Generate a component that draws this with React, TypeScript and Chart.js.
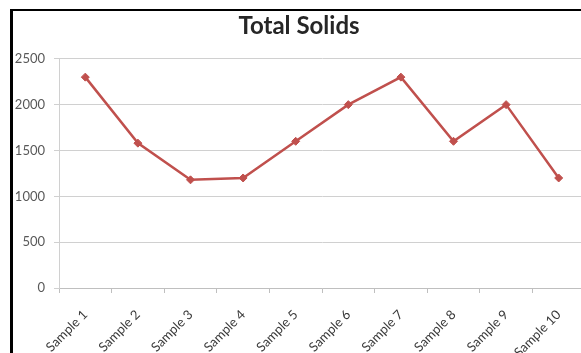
import { useEffect, useRef } from "react";
import { Chart, registerables } from "chart.js";

Chart.register(...registerables);

// Sample names along the category axis
const categories = [
  "Sample 1",
  "Sample 2",
  "Sample 3",
  "Sample 4",
  "Sample 5",
  "Sample 6",
  "Sample 7",
  "Sample 8",
  "Sample 9",
  "Sample 10",
];

// Total solids measured per sample
const totalSolids = [2300, 1580, 1180, 1200, 1600, 2000, 2300, 1600, 2000, 1200];

// Value axis range
const yMin = 0;
const yMax = 2500;
const yStep = 500;

const FONT = "Lato, 'Open Sans', sans-serif";

export default function App() {
  const canvasRef = useRef<HTMLCanvasElement>(null);

  useEffect(() => {
    const canvas = canvasRef.current;
    if (!canvas) return;
    const chart = new Chart(canvas, {
      type: "line",
      data: {
        labels: categories,
        datasets: [
          {
            label: "Total Solids",
            data: totalSolids,
            borderColor: "#C0504D",
            backgroundColor: "#C0504D",
            borderWidth: 2.5,
            pointStyle: "rectRot",
            pointRadius: 4,
            pointBorderWidth: 1,
            tension: 0,
          },
        ],
      },
      options: {
        responsive: false,
        animation: false,
        devicePixelRatio: 1,
        layout: { padding: { left: 0, right: 5, top: 0, bottom: 0 } },
        plugins: {
          legend: { display: false },
          tooltip: { enabled: false },
          title: {
            display: true,
            text: "Total Solids",
            color: "#262626",
            font: { family: FONT, size: 24, weight: "bold" },
            padding: { top: 1, bottom: 18 },
          },
        },
        scales: {
          x: {
            offset: true,
            grid: {
              offset: true,
              drawOnChartArea: false,
              drawTicks: true,
              tickLength: 5,
              color: "#bfbfbf",
            },
            border: { color: "#bfbfbf" },
            ticks: {
              minRotation: 45,
              maxRotation: 45,
              color: "#3a3a3a",
              font: { family: FONT, size: 13 },
              padding: 14,
            },
            afterFit: (scale: any) => {
              scale.height = 65;
            },
          },
          y: {
            min: yMin,
            max: yMax,
            ticks: {
              stepSize: yStep,
              color: "#595959",
              font: { family: FONT, size: 13 },
              padding: 9,
              callback: (v: any) => String(v),
            },
            grid: { color: "#d0d0d0", tickLength: 5, drawTicks: true },
            border: { color: "#d0d0d0" },
            afterFit: (scale: any) => {
              scale.width = 46;
            },
          },
        },
      },
    });
    return () => chart.destroy();
  }, []);

  return (
    <div
      style={{
        position: "absolute",
        left: 0,
        top: 0,
        width: 581,
        height: 353,
        overflow: "hidden",
        background: "#fff",
      }}
    >
      <div
        style={{
          position: "absolute",
          left: 10,
          top: 9,
          width: 600,
          height: 370,
          borderLeft: "3px solid #000",
          borderTop: "2px solid #000",
        }}
      >
        <canvas
          ref={canvasRef}
          width={577}
          height={342}
          style={{ position: "absolute", left: 0, top: 0, width: 577, height: 342 }}
        />
      </div>
    </div>
  );
}
